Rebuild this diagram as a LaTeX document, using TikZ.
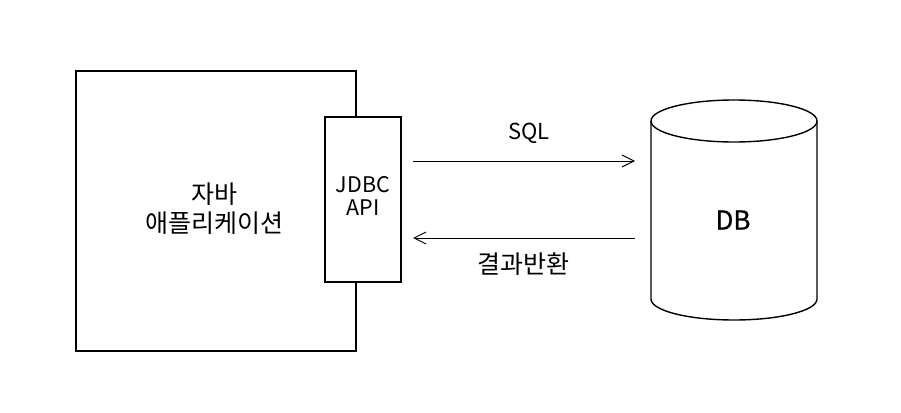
\documentclass[tikz,border=0pt]{standalone}
\usepackage{fontspec}
\setmainfont{Noto Sans CJK KR}
\newfontfamily\dbfont[FakeBold=0.8]{Noto Sans CJK KR}
\usetikzlibrary{arrows.meta}
\begin{document}
\begin{tikzpicture}[x=1pt,y=-1pt,
  box/.style={draw,line width=1.4pt,fill=white,inner sep=0pt},
  lbl/.style={font=\fontsize{25}{29}\selectfont,align=center,inner sep=0pt},
  conn/.style={line width=1pt,-{Straight Barb[length=12pt,width=12pt,line width=1pt]}}]
\useasboundingbox (0,0) rectangle (901,412);
\node[box,minimum width=280pt,minimum height=280pt] (app) at (216,211) {};
\node[lbl] (apptxt) at (214,209) {자바\\애플리케이션};
\node[box,minimum width=76pt,minimum height=165pt] (jdbc) at (363,199.5) {};
\node[lbl,font=\fontsize{21.5}{23}\selectfont] (jdbctxt) at (363,196) {JDBC\\API};
% cylinder
\draw[line width=1.4pt,fill=white] (651,121) -- (651,299) arc[start angle=180,end angle=0,x radius=83,y radius=21] -- (817,121);
\draw[line width=1.4pt] (734,121) ellipse[x radius=83,y radius=21];
\node[lbl,font=\dbfont\fontsize{26}{30}\selectfont] (db) at (733,220) {DB};
\coordinate (dbL1) at (635,161);
\coordinate (dbL2) at (635,238);
\coordinate (jR1) at (413,161);
\coordinate (jR2) at (413,238);
\draw[conn] (jR1) -- (dbL1);
\draw[conn] (dbL2) -- (jR2);
\node[lbl,font=\fontsize{22}{26}\selectfont] (sql) at (529,133) {SQL};
\node[lbl] (ret) at (523,264) {결과반환};
\end{tikzpicture}
\end{document}
